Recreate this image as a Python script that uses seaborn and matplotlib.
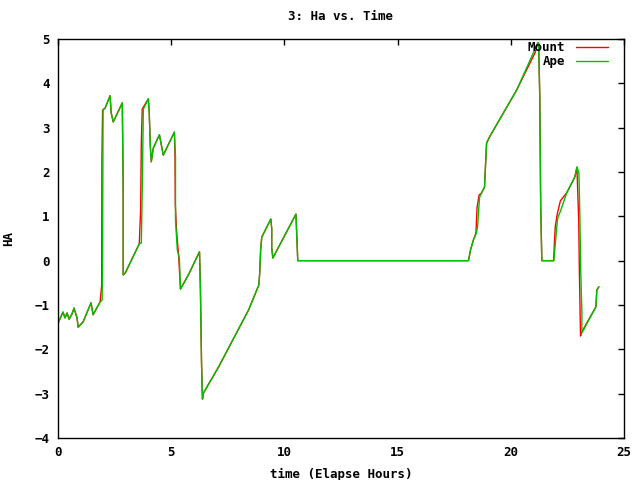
import matplotlib
matplotlib.use("Agg")
import matplotlib.pyplot as plt
import seaborn as sns
import pandas as pd

# Ape series (time in elapsed hours, HA)
ape_time = [0.00, 0.22, 0.31, 0.40, 0.49, 0.62, 0.71, 0.84, 0.89, 1.11, 1.46, 1.55, 1.86, 1.95,
            1.97, 1.99, 2.08, 2.30, 2.35, 2.44, 2.84, 2.88, 2.88, 2.97, 3.59, 3.68, 3.72, 3.77,
            3.99, 4.03, 4.08, 4.12, 4.21, 4.48, 4.65, 5.14, 5.19, 5.19, 5.27, 5.36, 5.41, 5.76,
            6.25, 6.29, 6.34, 6.38, 6.43, 7.09, 8.42, 8.87, 8.91, 8.95, 9.00, 9.40, 9.44, 9.44,
            9.49, 10.51, 10.55, 10.59, 18.13, 18.22, 18.35, 18.48, 18.53, 18.62, 18.71, 18.84,
            18.88, 18.93, 19.06, 20.26, 21.19, 21.23, 21.28, 21.32, 21.37, 21.90, 21.99, 22.07,
            22.21, 22.47, 22.83, 22.92, 23.01, 23.05, 23.09, 23.14, 23.14, 23.76, 23.80, 23.89]
ape_ha = [-1.41, -1.16, -1.29, -1.18, -1.32, -1.20, -1.07, -1.29, -1.50, -1.38, -0.95, -1.22, -0.93, -0.89,
          0.24, 3.40, 3.44, 3.72, 3.33, 3.13, 3.56, 1.64, -0.32, -0.28, 0.38, 0.40, 1.59, 3.42,
          3.65, 3.33, 2.56, 2.23, 2.54, 2.84, 2.38, 2.90, 2.34, 0.92, 0.24, 0.06, -0.64, -0.32,
          0.20, -0.62, -2.31, -3.12, -2.98, -2.40, -1.11, -0.55, -0.28, 0.24, 0.53, 0.94, 0.72, 0.29,
          0.06, 1.05, 0.53, 0.00, 0.00, 0.24, 0.47, 0.62, 0.76, 1.43, 1.53, 1.66,
          2.11, 2.65, 2.79, 3.85, 4.91, 4.91, 3.69, 1.26, 0.00, 0.00, 0.53, 0.96,
          1.14, 1.53, 1.89, 2.11, 1.98, 0.99, -0.28, -1.18, -1.63, -1.04, -0.66, -0.59]

# Mount series (same track, jumps happen slightly earlier)
mount_time = [0.00, 0.22, 0.31, 0.40, 0.49, 0.62, 0.71, 0.84, 0.89, 1.11, 1.46, 1.55, 1.86, 1.93,
              1.94, 1.97, 2.08, 2.30, 2.35, 2.44, 2.84, 2.88, 2.88, 2.97, 3.59, 3.65, 3.68, 3.72,
              3.99, 4.03, 4.08, 4.12, 4.21, 4.48, 4.65, 5.14, 5.17, 5.18, 5.24, 5.33, 5.41, 5.76,
              6.25, 6.29, 6.34, 6.38, 6.43, 7.09, 8.42, 8.87, 8.91, 8.95, 9.00, 9.40, 9.44, 9.44,
              9.49, 10.51, 10.55, 10.59, 18.13, 18.22, 18.35, 18.46, 18.51, 18.60, 18.71, 18.84,
              18.88, 18.93, 19.06, 20.26, 21.08, 21.19, 21.23, 21.28, 21.32, 21.37, 21.89, 21.96,
              22.05, 22.19, 22.47, 22.83, 22.92, 23.00, 23.03, 23.08, 23.11, 23.76, 23.80, 23.89]
mount_ha = [-1.41, -1.16, -1.29, -1.18, -1.32, -1.20, -1.07, -1.29, -1.50, -1.38, -0.95, -1.22, -0.93, -0.55,
            2.30, 3.40, 3.44, 3.72, 3.33, 3.13, 3.56, 1.64, -0.32, -0.28, 0.38, 1.16, 2.65, 3.42,
            3.65, 3.33, 2.56, 2.23, 2.54, 2.84, 2.38, 2.90, 2.30, 1.28, 0.65, 0.10, -0.64, -0.32,
            0.20, -0.62, -2.31, -3.12, -2.98, -2.40, -1.11, -0.55, -0.28, 0.24, 0.53, 0.94, 0.72, 0.29,
            0.06, 1.05, 0.53, 0.00, 0.00, 0.24, 0.47, 0.62, 1.20, 1.48, 1.53, 1.66,
            2.11, 2.65, 2.79, 3.85, 4.70, 4.91, 4.91, 3.69, 1.26, 0.00, 0.00, 0.75,
            1.05, 1.35, 1.53, 1.89, 2.11, 0.90, -0.28, -1.70, -1.63, -1.04, -0.66, -0.59]

x_ticks = [0, 5, 10, 15, 20, 25]
y_ticks = [-4, -3, -2, -1, 0, 1, 2, 3, 4, 5]

df = pd.concat([
    pd.DataFrame({"time": mount_time, "ha": mount_ha, "series": "Mount"}),
    pd.DataFrame({"time": ape_time, "ha": ape_ha, "series": "Ape"}),
], ignore_index=True)

sns.set_theme(style="white")
plt.rcParams["font.family"] = ["DejaVu Sans Mono"]
plt.rcParams["font.weight"] = "bold"
plt.rcParams["text.color"] = "black"
plt.rcParams["axes.labelcolor"] = "black"
plt.rcParams["xtick.color"] = "black"
plt.rcParams["ytick.color"] = "black"

fig = plt.figure(figsize=(6.4, 4.8), dpi=100)
ax = fig.add_axes([58 / 640, 1 - 438 / 480, (624 - 58) / 640, (438 - 39) / 480])

sns.lineplot(data=df, x="time", y="ha", hue="series", hue_order=["Mount", "Ape"],
             palette={"Mount": "#ff0000", "Ape": "#00c000"}, sort=False, estimator=None,
             units="series", linewidth=1.0, ax=ax, legend=True)

ax.set_xlim(0, 25)
ax.set_ylim(-4, 5)
ax.set_xticks(x_ticks)
ax.set_yticks(y_ticks)
ax.tick_params(direction="in", length=4, width=1, top=True, right=True,
               labelsize=9, colors="black", labelcolor="black", pad=6)
for lab in ax.get_xticklabels() + ax.get_yticklabels():
    lab.set_fontweight("bold")
    lab.set_color("black")
for s in ax.spines.values():
    s.set_color("black")
    s.set_linewidth(1)

ax.set_title("3: Ha vs. Time", fontsize=9, fontweight="bold", pad=14, color="black")
ax.set_xlabel("time (Elapse Hours)", fontsize=9, fontweight="bold", labelpad=6, color="black")
ax.set_ylabel("HA", fontsize=9, fontweight="bold", labelpad=14, color="black")

handles, labels = ax.get_legend_handles_labels()
leg = ax.legend(handles, labels, loc="upper right", frameon=False, markerfirst=False,
                bbox_to_anchor=(1 - 11 / 566, 1 + 3 / 399),
                handlelength=2.6, handletextpad=0.8, borderaxespad=0.0,
                labelspacing=0.1, prop={"weight": "bold", "size": 9})
for t in leg.get_texts():
    t.set_ha("right")
    t.set_color("black")

fig.savefig("out.png", dpi=100)
